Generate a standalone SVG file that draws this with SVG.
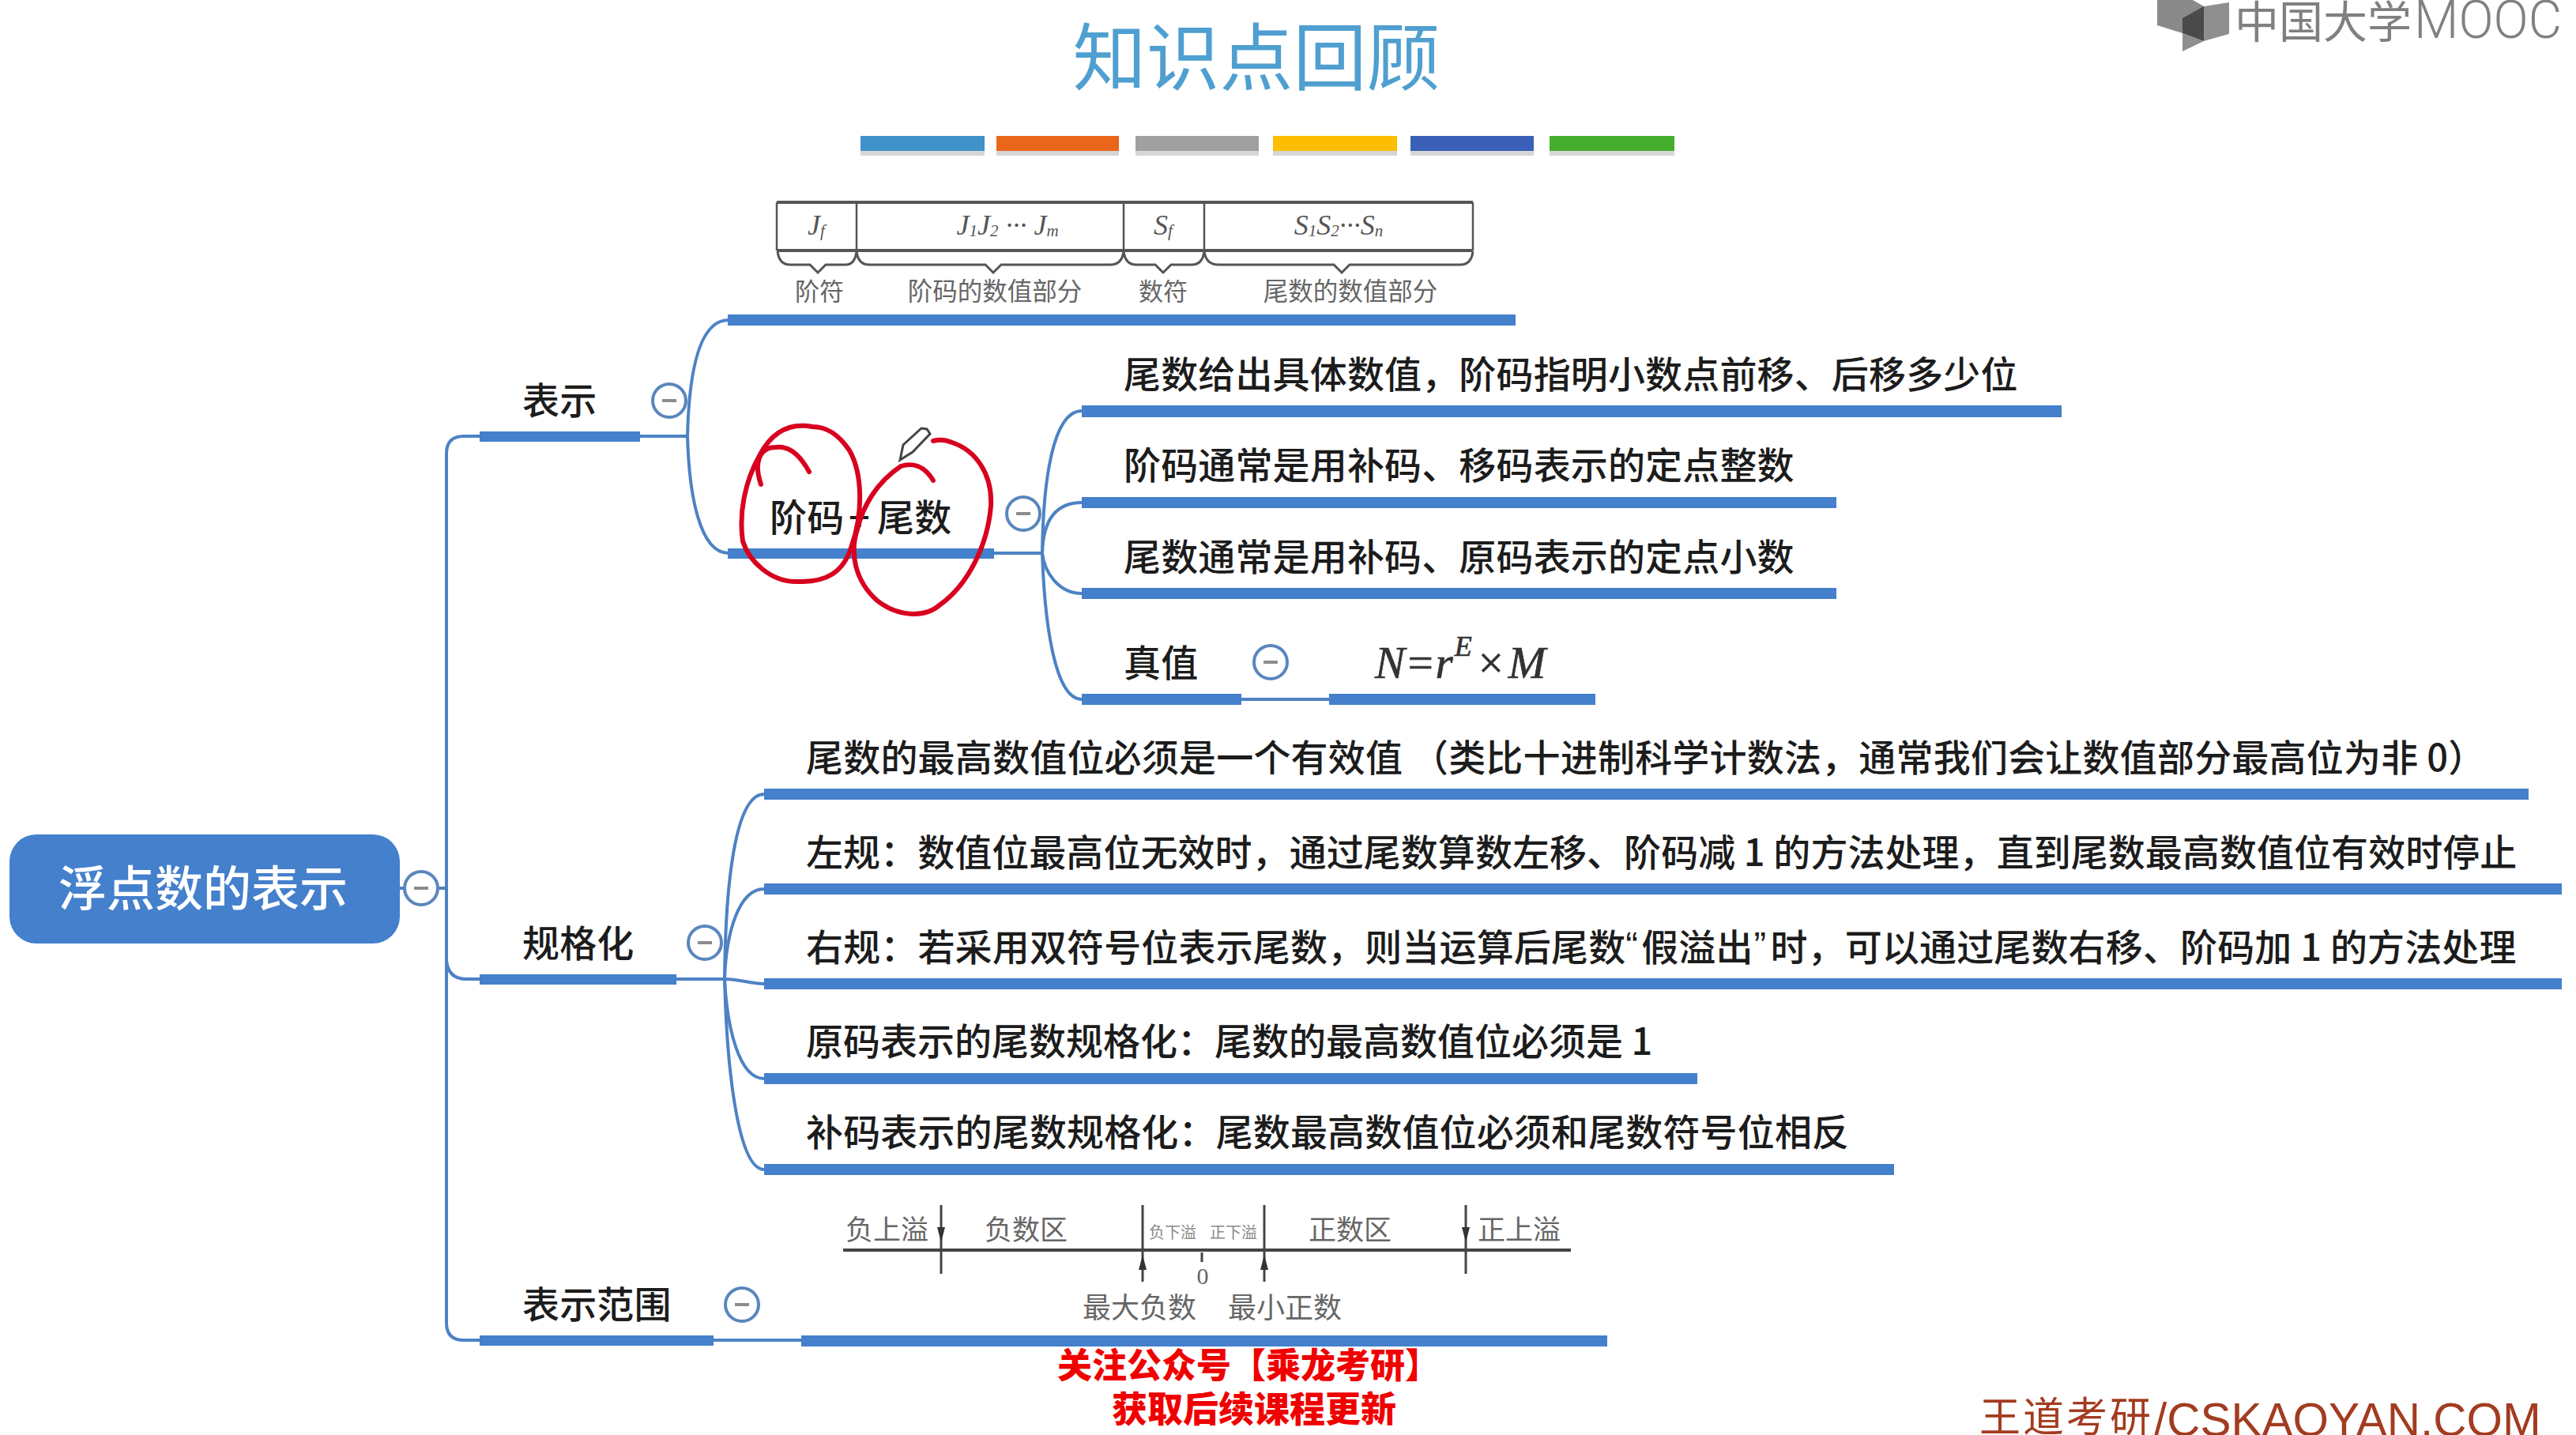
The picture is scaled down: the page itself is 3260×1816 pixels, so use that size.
<svg xmlns="http://www.w3.org/2000/svg" width="3260" height="1816" viewBox="0 0 3260 1816">
<style>
text{font-family:"Noto Sans CJK SC","Liberation Sans",sans-serif;fill:#222;dominant-baseline:central}
.t{font-size:47px;font-weight:500;letter-spacing:.15px;fill:#1c1c1c}
.bar{fill:#4480cc}
.c{fill:none;stroke:#4d82c4;stroke-width:4}
.col{fill:#fff;stroke:#5a86bd;stroke-width:4}
.min{stroke:#8c8c8c;stroke-width:4}
.tbl{fill:none;stroke:#555;stroke-width:3}
.s{font-family:"Liberation Serif","Noto Sans CJK SC",serif;font-style:italic;font-size:36px;fill:#555}
.sub{font-size:21px}
.g{font-family:"Liberation Serif","Noto Sans CJK SC",serif;fill:#666}
.ax{stroke:#444;stroke-width:3;fill:none}
.ink{fill:none;stroke:#d8001e;stroke-width:6;stroke-linecap:round;stroke-linejoin:round}
.red{font-weight:900;fill:#f00000}
.q{font-family:"Liberation Sans",sans-serif}
</style>
<rect width="3260" height="1816" fill="#fff"/>

<g id="title"><text x="1590" y="66" text-anchor="middle" font-size="93" style="fill:#4f9fd0">知识点回顾</text></g>
<g id="color-bars">
<rect x="1089" y="190" width="157" height="7" fill="#777" opacity=".3"/><rect x="1089" y="172" width="157" height="19" fill="#3f93c9"/>
<rect x="1261" y="190" width="155" height="7" fill="#777" opacity=".3"/><rect x="1261" y="172" width="155" height="19" fill="#e9661a"/>
<rect x="1437" y="190" width="156" height="7" fill="#777" opacity=".3"/><rect x="1437" y="172" width="156" height="19" fill="#a0a0a0"/>
<rect x="1611" y="190" width="157" height="7" fill="#777" opacity=".3"/><rect x="1611" y="172" width="157" height="19" fill="#fdbd00"/>
<rect x="1785" y="190" width="156" height="7" fill="#777" opacity=".3"/><rect x="1785" y="172" width="156" height="19" fill="#3a60b8"/>
<rect x="1961" y="190" width="158" height="7" fill="#777" opacity=".3"/><rect x="1961" y="172" width="158" height="19" fill="#45ae2e"/>
</g>
<g id="mooc-logo">
<polygon points="2730,0 2775,0 2789,8 2789,52 2762,42 2730,32" fill="#8a8a8a"/>
<polygon points="2789,8 2821,3 2821,43 2789,52" fill="#8f8f8f"/>
<polygon points="2762,23 2789,8 2789,52 2762,42" fill="#4a4a4a"/>
<polygon points="2762,42 2789,52 2762,65" fill="#8f8f8f"/>
<text x="2828" y="23" font-size="56" font-weight="400" style="fill:#808080">中国大学</text>
<text x="3055" y="25" font-size="66" font-weight="300" textLength="187" lengthAdjust="spacingAndGlyphs" style="font-family:Roboto,'Liberation Sans',sans-serif;fill:#808080">MOOC</text>
</g>

<g id="connectors">
<path class="c" d="M506 1124H533M555 1124H565"/>
<path class="c" d="M607 552H587Q565 552 565 574V1674Q565 1696 587 1696H607"/>
<path class="c" d="M565 1215Q567 1239 590 1239H607"/>
<path class="c" d="M810 552H870"/>
<path class="c" d="M870 552C872 470 885 405 922 405"/>
<path class="c" d="M870 552C872 625 885 700 922 700"/>
<path class="c" d="M1258 700H1319"/>
<path class="c" d="M1319 700C1320 610 1332 520 1369 520"/>
<path class="c" d="M1319 700C1320 660 1335 636 1369 636"/>
<path class="c" d="M1319 700C1322 725 1340 751 1369 751"/>
<path class="c" d="M1319 700C1322 790 1335 885 1369 885"/>
<path class="c" d="M1571 885H1682"/>
<path class="c" d="M856 1239H917"/>
<path class="c" d="M917 1239C918 1120 930 1005 967 1005"/>
<path class="c" d="M917 1239C919 1180 935 1125 967 1125"/>
<path class="c" d="M917 1239C935 1239 950 1245 967 1245"/>
<path class="c" d="M917 1239C920 1300 935 1365 967 1365"/>
<path class="c" d="M917 1239C920 1360 935 1480 967 1480"/>
<path class="c" d="M903 1696H1014"/>
</g>

<g id="root"><rect x="12" y="1056" width="494" height="138" rx="34" fill="#4480cc"/>
<text x="257" y="1120" text-anchor="middle" font-size="61" font-weight="500" style="fill:#fff">浮点数的表示</text></g>
<g id="root-toggle"><circle class="col" cx="533" cy="1124" r="21"/><path class="min" d="M524 1124H542"/></g>

<g id="n-biaoshi"><rect class="bar" x="607" y="546" width="203" height="13"/><text class="t" x="661" y="503">表示</text>
<circle class="col" cx="847" cy="507" r="21"/><path class="min" d="M838 507H856"/></g>

<g id="n-format">
<rect class="bar" x="921" y="398" width="997" height="14"/>
<path class="tbl" style="stroke-width:2.5" d="M983 256V317M1084 256V317M1422 256V317M1524 256V317M1864 256V317"/>
<path class="tbl" style="stroke-width:4" d="M983 256H1864M983 317H1864"/>
<path class="tbl" d="M984 318Q986 335 1000 335H1025L1035 345L1045 335H1070Q1082 335 1084 318Q1086 335 1100 335H1247L1257 345L1267 335H1405Q1420 335 1422 318Q1424 335 1438 335H1462L1472 345L1482 335H1508Q1522 335 1524 318Q1526 335 1542 335H1688L1698 345L1708 335H1848Q1862 335 1864 318"/>
<text class="s" x="1033" y="285" text-anchor="middle">J<tspan class="sub" dy="7">f</tspan></text>
<text class="s" x="1275" y="285" text-anchor="middle">J<tspan class="sub" dy="7">1</tspan><tspan dy="-7">J</tspan><tspan class="sub" dy="7">2</tspan><tspan dy="-7"> ··· J</tspan><tspan class="sub" dy="7">m</tspan></text>
<text class="s" x="1472" y="285" text-anchor="middle">S<tspan class="sub" dy="7">f</tspan></text>
<text class="s" x="1694" y="285" text-anchor="middle">S<tspan class="sub" dy="7">1</tspan><tspan dy="-7">S</tspan><tspan class="sub" dy="7">2</tspan><tspan dy="-7">···S</tspan><tspan class="sub" dy="7">n</tspan></text>
<text class="g" x="1037" y="369" text-anchor="middle" font-size="31">阶符</text>
<text class="g" x="1259" y="369" text-anchor="middle" font-size="31.5">阶码的数值部分</text>
<text class="g" x="1472" y="369" text-anchor="middle" font-size="31">数符</text>
<text class="g" x="1709" y="369" text-anchor="middle" font-size="31.5">尾数的数值部分</text>
</g>

<g id="n-jm"><rect class="bar" x="921" y="694" width="337" height="13"/>
<text class="t" x="974" y="651">阶码<tspan x="1074">+</tspan><tspan x="1110">尾数</tspan></text>
<circle class="col" cx="1295" cy="650" r="21"/><path class="min" d="M1286 650H1304"/></g>

<g id="n-a1"><rect class="bar" x="1369" y="513" width="1240" height="15"/><text class="t" x="1422" y="470">尾数给出具体数值，阶码指明小数点前移、后移多少位</text></g>
<g id="n-a2"><rect class="bar" x="1369" y="629" width="955" height="14"/><text class="t" x="1422" y="585">阶码通常是用补码、移码表示的定点整数</text></g>
<g id="n-a3"><rect class="bar" x="1369" y="744" width="955" height="14"/><text class="t" x="1422" y="701">尾数通常是用补码、原码表示的定点小数</text></g>
<g id="n-a4"><rect class="bar" x="1369" y="878" width="202" height="14"/><text class="t" x="1422" y="835">真值</text>
<circle class="col" cx="1608" cy="838" r="21"/><path class="min" d="M1599 838H1617"/></g>
<g id="n-formula"><rect class="bar" x="1682" y="878" width="337" height="14"/>
<text x="1740" y="838" font-size="57" stroke="#333" stroke-width=".7" style="font-family:'Liberation Serif',serif;font-style:italic;fill:#333">N=r<tspan font-size="36" dy="-20" dx="2">E</tspan><tspan dy="20" dx="8" style="font-style:normal">×</tspan><tspan dx="6">M</tspan></text></g>

<g id="n-guige"><rect class="bar" x="607" y="1233" width="249" height="13"/><text class="t" x="661" y="1190">规格化</text>
<circle class="col" cx="892" cy="1193" r="21"/><path class="min" d="M883 1193H901"/></g>
<g id="n-b1"><rect class="bar" x="967" y="998" width="2233" height="14"/><text class="t" x="1020" y="955" style="letter-spacing:.2px">尾数的最高数值位必须是一个有效值 （类比十进制科学计数法，通常我们会让数值部分最高位为非 0）</text></g>
<g id="n-b2"><rect class="bar" x="967" y="1118" width="2275" height="14"/><text class="t" x="1020" y="1075" style="letter-spacing:.05px">左规：数值位最高位无效时，通过尾数算数左移、阶码减 1 的方法处理，直到尾数最高数值位有效时停止</text></g>
<g id="n-b3"><rect class="bar" x="967" y="1238" width="2275" height="14"/><text class="t" x="1020" y="1195">右规：若采用双符号位表示尾数，则当运算后尾数<tspan class="q">“</tspan><tspan dx="4">假溢出</tspan><tspan class="q" dx="1">”</tspan><tspan dx="5">时，可以通过尾数右移、阶码加 1 的方法处理</tspan></text></g>
<g id="n-b4"><rect class="bar" x="967" y="1358" width="1181" height="14"/><text class="t" x="1020" y="1314" style="letter-spacing:0">原码表示的尾数规格化：尾数的最高数值位必须是 1</text></g>
<g id="n-b5"><rect class="bar" x="967" y="1473" width="1430" height="14"/><text class="t" x="1020" y="1429">补码表示的尾数规格化：尾数最高数值位必须和尾数符号位相反</text></g>

<g id="n-range"><rect class="bar" x="607" y="1690" width="296" height="13"/><text class="t" x="661" y="1647">表示范围</text>
<circle class="col" cx="939" cy="1651" r="21"/><path class="min" d="M930 1651H948"/></g>
<g id="n-rangefig"><rect class="bar" x="1014" y="1690" width="1020" height="14"/>
<path class="ax" style="stroke-width:4" d="M1067 1582H1988"/>
<path class="ax" d="M1191 1525V1612M1446 1525V1622M1600 1525V1622M1855 1525V1612M1521 1585V1597"/>
<path d="M1186 1553H1196L1191 1572ZM1850 1553H1860L1855 1572ZM1441 1607H1451L1446 1588ZM1595 1607H1605L1600 1588Z" fill="#333"/>
<text class="g" x="1070" y="1557" font-size="35">负上溢</text>
<text class="g" x="1246" y="1557" font-size="35">负数区</text>
<text class="g" x="1454" y="1560" font-size="20" style="fill:#888">负下溢</text>
<text class="g" x="1531" y="1560" font-size="20" style="fill:#888">正下溢</text>
<text class="g" x="1656" y="1557" font-size="35">正数区</text>
<text class="g" x="1870" y="1557" font-size="35">正上溢</text>
<text class="g" x="1522" y="1614" font-size="30" text-anchor="middle">0</text>
<text class="g" x="1370" y="1656" font-size="36">最大负数</text>
<text class="g" x="1554" y="1656" font-size="36">最小正数</text>
</g>

<g id="annotation-red">
<path class="ink" d="M963 613C955 590 958 566 982 566C998 564 1012 575 1024 597"/>
<path class="ink" d="M1028 540C1000 535 978 545 962 575C942 610 935 650 940 685C948 710 975 737 1010 736C1045 737 1068 725 1078 690C1092 650 1092 600 1075 570C1060 548 1045 540 1028 540Z"/>
<path class="ink" d="M1181 608C1170 590 1155 585 1140 590C1110 610 1092 640 1085 670C1075 700 1082 735 1110 760C1135 780 1170 783 1190 765C1225 740 1250 690 1254 640C1256 600 1235 570 1205 560C1195 556 1188 556 1181 558"/>
<polygon points="1139,582 1143,563 1166,542 1173,543 1177,549 1155,572" fill="#fff" stroke="#444" stroke-width="3"/>
</g>

<g id="promo">
<text class="red" x="1580" y="1725" text-anchor="middle" font-size="44">关注公众号【乘龙考研】</text>
<text class="red" x="1587" y="1780" text-anchor="middle" font-size="45">获取后续课程更新</text>
</g>
<g id="watermark">
<text x="2505" y="1812" font-size="52" letter-spacing="3" style="font-family:'Noto Sans CJK SC',sans-serif;fill:#a23c20;dominant-baseline:alphabetic">王道考研</text>
<text x="2726" y="1817" font-size="58.5" style="font-family:'Liberation Sans',sans-serif;fill:#a23c20;dominant-baseline:alphabetic">/CSKAOYAN.COM</text>
</g>
</svg>
